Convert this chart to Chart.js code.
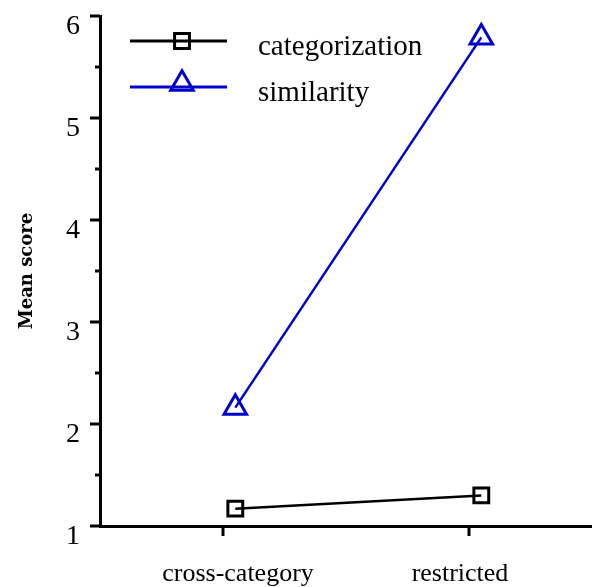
<!DOCTYPE html>
<html>
<head>
<meta charset="utf-8">
<script src="https://cdn.jsdelivr.net/npm/chart.js@4"></script>
<style>
  html, body { margin: 0; padding: 0; background: #fff; }
  #wrap { width: 592px; height: 587px; }
</style>
</head>
<body>
<div id="wrap"><canvas id="c" width="592" height="587"></canvas></div>
<script>
// ---- data ----
const categories = ['cross-category', 'restricted'];
const categoryTicks = [1, 2];
const pointX = [1.05, 2.05];
const categorization = [1.17, 1.30];
const similarity = [2.16, 5.79];
const seriesNames = ['categorization', 'similarity'];
const yTicks = [1, 2, 3, 4, 5, 6];
const yMinorTicks = [1.5, 2.5, 3.5, 4.5, 5.5];

const SERIF = '"Liberation Serif", "Times New Roman", serif';
const BLUE = '#0000cc';

function toPoints(vals) { return vals.map((v, i) => ({ x: pointX[i], y: v })); }

const decor = {
  id: 'decor',
  afterDraw(chart) {
    const ctx = chart.ctx;
    const ys = chart.scales.y, xs = chart.scales.x;
    const left = chart.chartArea.left, bottom = chart.chartArea.bottom;
    ctx.save();
    ctx.strokeStyle = '#000';
    ctx.lineWidth = 3;
    ctx.lineCap = 'butt';
    yTicks.forEach(v => {
      const y = Math.round(ys.getPixelForValue(v));
      ctx.beginPath(); ctx.moveTo(left - 10, y); ctx.lineTo(left, y); ctx.stroke();
    });
    yMinorTicks.forEach(v => {
      const y = Math.round(ys.getPixelForValue(v));
      ctx.beginPath(); ctx.moveTo(left - 5, y); ctx.lineTo(left, y); ctx.stroke();
    });
    // x tick marks and category labels
    const labelShift = [15, -9];
    ctx.fillStyle = '#000';
    ctx.font = '26px ' + SERIF;
    ctx.textAlign = 'center';
    ctx.textBaseline = 'alphabetic';
    categoryTicks.forEach((v, i) => {
      const x = Math.round(xs.getPixelForValue(v));
      ctx.beginPath(); ctx.moveTo(x, bottom); ctx.lineTo(x, bottom + 10); ctx.stroke();
      ctx.fillText(categories[i], x + labelShift[i], bottom + 55);
    });

    // legend
    const rows = [41, 87];
    chart.data.datasets.forEach((ds, i) => {
      const y = rows[i];
      ctx.strokeStyle = ds.borderColor;
      ctx.lineWidth = 3;
      ctx.beginPath(); ctx.moveTo(130, y); ctx.lineTo(227, y); ctx.stroke();
      ctx.lineWidth = ds.pointBorderWidth;
      const cx = 182;
      if (ds.pointStyle === 'rect') {
        const s = Math.SQRT1_2 * ds.pointRadius;
        ctx.beginPath(); ctx.rect(cx - s, y - s, 2 * s, 2 * s); ctx.stroke();
      } else {
        const r = ds.pointRadius;
        const cy = y - r / 4;
        ctx.beginPath();
        ctx.moveTo(cx, cy - r);
        ctx.lineTo(cx + r * Math.sin(2 * Math.PI / 3), cy - r * Math.cos(2 * Math.PI / 3));
        ctx.lineTo(cx + r * Math.sin(4 * Math.PI / 3), cy - r * Math.cos(4 * Math.PI / 3));
        ctx.closePath(); ctx.stroke();
      }
      ctx.fillStyle = '#000';
      ctx.font = '29px ' + SERIF;
      ctx.textAlign = 'left';
      ctx.textBaseline = 'alphabetic';
      ctx.fillText(ds.label, 258, y + 14);
    });
    ctx.restore();
  }
};

new Chart(document.getElementById('c'), {
  type: 'line',
  data: {
    datasets: [
      {
        label: seriesNames[0],
        data: toPoints(categorization),
        borderColor: '#000',
        borderWidth: 2.5,
        pointStyle: 'rect',
        pointRadius: 10.5,
        pointHoverRadius: 10.5,
        pointBorderWidth: 3,
        pointBorderColor: '#000',
        pointBackgroundColor: 'rgba(0,0,0,0)',
        fill: false,
        clip: false
      },
      {
        label: seriesNames[1],
        data: toPoints(similarity),
        borderColor: BLUE,
        borderWidth: 2.5,
        pointStyle: 'triangle',
        pointRadius: 13,
        pointHoverRadius: 13,
        pointBorderWidth: 3,
        pointBorderColor: BLUE,
        pointBackgroundColor: 'rgba(0,0,0,0)',
        fill: false,
        clip: false
      }
    ]
  },
  options: {
    responsive: false,
    devicePixelRatio: 1,
    animation: false,
    events: [],
    layout: { autoPadding: false, padding: { top: 16, left: 0, right: 0, bottom: 0 } },
    plugins: { legend: { display: false }, tooltip: { enabled: false } },
    scales: {
      x: {
        type: 'linear',
        min: 0.5,
        max: 2.5,
        afterBuildTicks: s => { s.ticks = categoryTicks.map(v => ({ value: v })); },
        afterFit: s => { s.height = 61; s.paddingLeft = 0; s.paddingRight = 0; },
        grid: { display: false, drawTicks: false },
        border: { display: true, color: '#000', width: 3 },
        ticks: { display: false }
      },
      y: {
        min: 1,
        max: 6,
        afterBuildTicks: s => { s.ticks = yTicks.map(v => ({ value: v })); },
        afterFit: s => { s.width = 100; s.paddingTop = 0; s.paddingBottom = 0; },
        grid: { display: false, drawTicks: true, tickLength: 10 },
        border: { display: true, color: '#000', width: 3 },
        ticks: {
          color: '#000',
          font: { family: SERIF, size: 28, lineHeight: 1 },
          padding: 10,
          labelOffset: 11,
          callback: v => String(v)
        },
        title: {
          display: true,
          text: 'Mean score',
          color: '#000',
          font: { family: '"DejaVu Serif", serif', size: 18, weight: 'bold', lineHeight: 1.2 },
          padding: { top: 17, bottom: 0 }
        }
      }
    }
  },
  plugins: [decor]
});
</script>
</body>
</html>
